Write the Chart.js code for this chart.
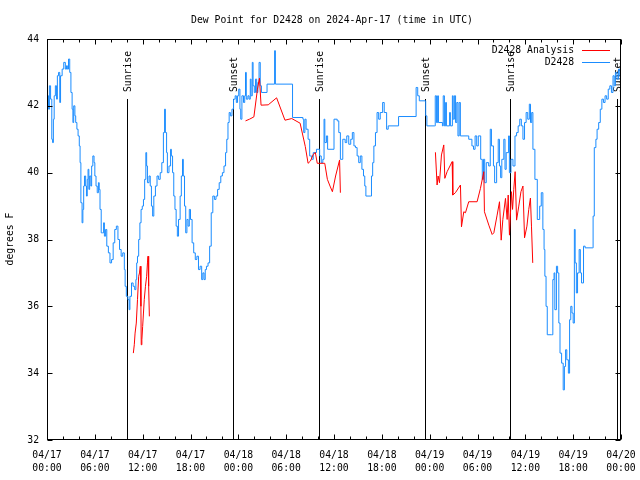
<!DOCTYPE html>
<html>
<head>
<meta charset="utf-8">
<script src="https://cdn.jsdelivr.net/npm/chart.js@4/dist/chart.umd.min.js"></script>
<style>
html,body{margin:0;padding:0;background:#fff;}
canvas{display:block;}
</style>
</head>
<body>
<canvas id="c" width="640" height="480"></canvas>
<script>
// ---- data (hours since 2024-04-17 00:00 UTC) ----
const titleText = 'Dew Point for D2428 on 2024-Apr-17 (time in UTC)';
const yAxisTitle = 'degrees F';
const seriesNames = ['D2428 Analysis', 'D2428'];
const xTickDates = ['04/17','04/17','04/17','04/17','04/18','04/18','04/18','04/18','04/19','04/19','04/19','04/19','04/20'];
const xTickTimes = ['00:00','06:00','12:00','18:00','00:00','06:00','12:00','18:00','00:00','06:00','12:00','18:00','00:00'];
const yTicks = [32, 34, 36, 38, 40, 42, 44];
const eventLabels = ['Sunrise','Sunset','Sunrise','Sunset','Sunrise','Sunset'];
const eventHours = [10.07, 23.38, 34.17, 47.47, 58.13, 71.56];

const blueHours = [
 0.0,0.1,0.2,0.3,0.45,0.6,0.7,0.8,0.9,1.05,1.2,1.3,1.45,1.6,1.7,1.9,2.1,2.3,2.45,2.55,
 2.7,2.85,3.0,3.15,3.25,3.35,3.5,3.6,3.75,3.9,4.05,4.15,4.25,4.4,4.5,4.6,4.7,4.85,4.95,5.05,
 5.15,5.25,5.35,5.5,5.6,5.75,5.9,6.0,6.15,6.3,6.45,6.55,6.65,6.8,6.95,7.1,7.2,7.35,7.5,7.7,
 7.9,8.1,8.3,8.5,8.7,8.9,9.1,9.3,9.5,9.7,9.8,9.95,10.15,10.3,10.4,10.6,10.8,11.0,11.15,11.25,
 11.35,11.5,11.65,11.8,11.95,12.1,12.25,12.4,12.5,12.6,12.8,12.95,13.1,13.25,13.4,13.6,13.8,14.0,14.2,14.4,
 14.6,14.75,14.85,15.0,15.1,15.3,15.5,15.6,15.75,15.9,16.05,16.2,16.35,16.5,16.7,16.85,17.0,17.1,17.25,17.4,
 17.55,17.7,17.85,18.0,18.2,18.4,18.6,18.8,19.0,19.2,19.4,19.55,19.7,19.85,20.0,20.2,20.4,20.6,20.8,21.0,
 21.2,21.4,21.6,21.8,22.0,22.2,22.4,22.55,22.7,22.85,23.0,23.2,23.4,23.6,23.75,23.9,24.05,24.2,24.3,24.45,
 24.65,24.8,24.9,25.0,25.2,25.35,25.5,25.6,25.75,25.85,26.0,26.15,26.3,26.45,26.6,26.75,26.9,27.6,28.55,28.65,
 30.8,32.1,32.2,32.35,32.5,32.75,32.95,33.2,33.4,33.8,34.2,34.4,34.6,34.75,34.85,35.05,35.2,36.0,36.4,36.6,
 36.8,37.1,37.4,37.6,37.85,38.1,38.3,38.5,38.7,38.9,39.1,39.3,39.5,39.7,39.86,40.0,40.55,40.7,40.85,41.0,
 41.2,41.4,41.6,41.8,42.1,42.3,42.6,42.8,44.1,46.3,46.5,46.7,47.5,47.65,48.6,48.7,48.85,49.0,49.1,49.6,
 49.7,49.85,50.0,50.1,50.5,50.6,50.85,50.95,51.1,51.25,51.4,51.55,51.7,51.85,52.7,52.9,53.3,53.5,53.7,53.9,
 54.1,54.4,54.6,54.75,54.9,55.1,55.4,55.6,55.75,56.0,56.15,56.4,56.6,56.75,56.9,57.05,57.3,57.45,57.6,57.9,
 58.0,58.2,58.45,58.7,58.9,59.1,59.3,59.5,59.7,59.9,60.1,60.3,60.5,60.65,60.8,60.95,61.2,61.5,61.8,62.0,
 62.2,62.35,62.45,62.6,62.75,63.3,63.45,63.6,63.7,63.9,64.05,64.2,64.35,64.55,64.75,64.9,65.05,65.2,65.4,65.55,
 65.7,65.85,66.0,66.15,66.25,66.4,66.55,66.75,66.9,67.05,67.3,67.5,68.4,68.5,68.65,68.85,69.0,69.2,69.4,69.6,
 69.8,70.0,70.2,70.4,70.6,70.8,71.0,71.15,71.3,71.5,71.7,71.85,72.0
];
const blueDew = [
 42.0,42.3,41.9,42.6,42.2,41.0,40.9,41.6,42.3,42.6,42.2,42.9,43.0,42.1,42.9,43.1,43.3,43.1,43.2,43.1,
 43.4,43.0,42.4,41.9,41.5,42.0,41.7,41.5,41.3,41.1,40.8,40.3,39.1,38.5,38.9,39.6,39.9,39.6,39.3,39.8,
 40.1,39.5,39.9,39.6,40.2,40.5,40.3,39.9,39.6,39.4,39.7,39.5,38.9,38.2,38.2,38.5,38.1,38.3,37.8,37.6,
 37.3,37.4,37.9,38.3,38.4,38.0,37.7,37.5,37.6,37.1,36.6,36.3,36.2,35.9,36.3,36.7,36.6,36.5,36.8,37.3,
 37.5,38.0,38.5,38.9,39.0,39.2,39.8,40.6,40.2,39.7,39.9,39.6,39.0,38.7,39.3,39.6,39.9,39.8,40.0,40.3,
 41.2,41.9,41.2,40.6,40.0,40.2,40.7,40.5,40.0,39.3,38.9,38.4,38.1,38.6,39.3,39.9,40.4,39.9,39.0,38.2,
 38.6,38.4,38.9,38.6,37.9,37.6,37.4,37.5,37.1,37.2,36.8,37.0,36.8,37.1,37.2,37.3,37.8,38.8,39.3,39.2,
 39.3,39.5,39.7,39.9,40.0,40.2,40.6,41.0,41.5,41.8,41.7,41.9,42.2,42.3,42.1,42.3,42.5,41.9,41.6,42.3,
 42.1,42.3,43.0,42.2,42.3,42.2,42.8,42.3,43.3,42.6,42.4,42.8,42.4,42.7,43.3,42.6,42.4,42.65,43.65,42.65,
 41.65,41.6,41.2,41.6,41.3,41.0,40.5,40.4,40.6,40.7,40.5,40.3,40.4,41.6,40.9,41.1,40.7,41.6,41.55,41.2,
 40.4,41.0,40.9,41.1,40.85,41.0,41.2,40.8,40.75,40.5,40.3,40.5,40.1,39.9,39.6,39.3,39.3,39.9,40.3,40.8,
 41.2,41.8,41.6,41.8,42.1,41.8,41.3,41.4,41.68,42.55,42.3,42.15,41.7,41.4,41.4,42.3,41.5,42.3,41.5,41.4,
 42.3,41.4,42.1,41.4,41.8,41.4,42.3,41.6,42.3,41.5,42.1,41.1,42.1,41.1,41.1,41.0,40.8,40.7,41.1,40.8,
 41.1,40.4,39.8,40.4,39.7,40.3,40.2,41.3,40.8,40.2,39.7,40.3,41.0,40.2,39.85,40.4,41.0,40.1,40.6,41.1,
 40.0,40.4,40.2,41.1,41.2,41.4,41.6,41.4,41.0,41.5,41.8,41.6,42.05,41.5,41.8,40.7,39.8,38.6,39.0,39.4,
 38.3,37.7,36.9,36.0,35.15,35.15,36.8,37.0,35.9,37.2,37.0,35.5,34.6,34.3,33.5,34.2,34.7,34.4,34.0,35.6,
 36.0,35.8,35.5,38.3,37.3,36.4,37.0,37.7,37.0,36.7,37.8,37.75,37.75,38.7,40.75,41.0,41.3,41.5,41.9,42.2,
 42.1,42.3,42.2,42.5,42.6,42.4,42.9,42.6,43.0,42.8,43.1,42.9,43.0
];

const redHours = [
 10.83,10.95,11.05,11.2,11.35,11.5,11.6,11.7,11.78,11.82,11.9,12.0,12.1,12.2,12.35,12.5,12.6,12.67,12.75,12.84,13.0,
 24.9,25.4,25.95,26.4,26.65,26.85,27.75,28.8,29.85,30.7,31.75,32.4,32.75,33.05,33.4,33.66,33.9,34.84,35.17,35.5,35.8,36.2,36.7,36.8,37.0,
 48.72,48.93,49.06,49.23,49.48,49.77,49.9,50.19,50.82,50.9,51.23,51.86,51.99,52.28,52.49,52.9,53.95,54.37,54.79,54.87,
 55.42,55.84,56.05,56.46,56.76,56.97,57.18,57.51,57.72,57.85,58.01,58.26,58.4,58.55,58.72,58.9,59.18,59.45,59.7,59.9,
 60.2,60.43,60.64,60.77,60.93
];
const redDew = [
 34.6,34.85,35.2,35.5,36.2,36.9,37.0,37.2,36.0,34.85,35.0,35.4,35.8,36.2,36.6,36.9,37.3,37.5,36.6,35.7,null,
 41.55,41.6,41.67,42.5,42.83,42.02,42.03,42.24,41.57,41.62,41.48,40.78,40.28,40.35,40.55,40.6,40.28,40.28,39.8,39.6,39.43,39.9,40.38,39.4,null,
 40.61,39.63,39.9,39.7,40.53,40.83,39.83,40.03,40.33,39.33,39.4,39.63,38.38,38.83,38.8,39.13,39.13,39.53,40.03,38.83,
 38.43,38.15,38.2,38.73,39.13,37.98,38.6,39.23,38.6,39.33,38.13,39.43,38.9,39.5,40.03,38.58,39.0,39.43,39.6,38.05,
 38.4,38.9,39.24,38.4,37.3
];

const RED = '#ff0000';
const BLUE = '#1a8cff';
const FONT = '"DejaVu Sans Mono", "Liberation Mono", monospace';
const FS = 9.75;

const decor = {
  id: 'decor',
  beforeDatasetsDraw(chart) {
    const {ctx, chartArea: a, scales: {x, y}} = chart;
    ctx.save();
    ctx.strokeStyle = '#000';
    ctx.lineWidth = 1;
    ctx.fillStyle = '#000';
    ctx.font = FS + 'px ' + FONT;
    const lineTop = Math.round(y.getPixelForValue(42.2));
    eventHours.forEach((h, i) => {
      const px = Math.round(x.getPixelForValue(h)) + 0.5;
      ctx.beginPath();
      ctx.moveTo(px, lineTop);
      ctx.lineTo(px, Math.round(a.bottom));
      ctx.stroke();
      ctx.save();
      ctx.translate(px + 1, lineTop - 7);
      ctx.rotate(-Math.PI / 2);
      ctx.textAlign = 'left';
      ctx.textBaseline = 'middle';
      ctx.fillText(eventLabels[i], 0, 0);
      ctx.restore();
    });
    ctx.restore();
  },
  afterDraw(chart) {
    const {ctx, chartArea: a, scales: {x, y}} = chart;
    ctx.save();
    ctx.strokeStyle = '#000';
    ctx.lineWidth = 1;
    const L = Math.round(a.left) + 0.5, R = Math.round(a.right) - 0.5;
    const T = Math.round(a.top) + 0.5, B = Math.round(a.bottom) - 0.5;
    ctx.strokeRect(L, T, R - L, B - T);
    ctx.beginPath();
    for (let h = 0; h <= 72; h += 2) {
      const px = Math.round(x.getPixelForValue(h)) + 0.5;
      const len = (h % 6 === 0) ? 5 : 3;
      ctx.moveTo(px, B); ctx.lineTo(px, B - len);
      ctx.moveTo(px, T); ctx.lineTo(px, T + len);
    }
    yTicks.forEach(v => {
      const py = Math.round(y.getPixelForValue(v)) + 0.5;
      ctx.moveTo(L, py); ctx.lineTo(L + 5, py);
      ctx.moveTo(R, py); ctx.lineTo(R - 5, py);
    });
    ctx.stroke();

    ctx.fillStyle = '#000';
    ctx.font = FS + 'px ' + FONT;
    ctx.textAlign = 'center';
    ctx.textBaseline = 'middle';
    ctx.fillText(titleText, 332, 20);

    ctx.save();
    ctx.translate(10, 239);
    ctx.rotate(-Math.PI / 2);
    ctx.fillText(yAxisTitle, 0, 0);
    ctx.restore();

    // legend
    const ds = chart.data.datasets;
    ctx.textAlign = 'right';
    [50, 62].forEach((ly, i) => {
      ctx.fillStyle = '#000';
      ctx.fillText(ds[i].label, 574, ly);
      ctx.strokeStyle = ds[i].borderColor;
      ctx.beginPath();
      ctx.moveTo(582, ly + 0.5);
      ctx.lineTo(610, ly + 0.5);
      ctx.stroke();
    });
    ctx.restore();
  }
};

new Chart(document.getElementById('c'), {
  type: 'line',
  data: {
    datasets: [
      {
        label: seriesNames[0],
        data: redHours.map((h, i) => ({x: h, y: redDew[i]})),
        borderColor: RED,
        borderWidth: 1,
        pointRadius: 0,
        spanGaps: false,
        tension: 0,
        fill: false
      },
      {
        label: seriesNames[1],
        data: blueHours.map((h, i) => ({x: h, y: blueDew[i]})),
        borderColor: BLUE,
        borderWidth: 1,
        pointRadius: 0,
        stepped: true,
        fill: false
      }
    ]
  },
  options: {
    responsive: false,
    animation: false,
    devicePixelRatio: 1,
    layout: {padding: {top: 39, right: 19, left: 0, bottom: 0}},
    plugins: {legend: {display: false}, tooltip: {enabled: false}, title: {display: false}},
    scales: {
      x: {
        type: 'linear',
        min: 0,
        max: 72,
        afterFit(s) { s.height = 40; s.paddingLeft = 0; s.paddingRight = 0; },
        afterBuildTicks(s) { s.ticks = xTickDates.map((d, i) => ({value: i * 6})); },
        grid: {display: false, drawTicks: false},
        border: {display: false},
        ticks: {
          autoSkip: false,
          maxRotation: 0,
          padding: 9,
          color: '#000',
          font: {family: FONT, size: FS, lineHeight: '13px'},
          callback: (v, i) => [xTickDates[i], xTickTimes[i]]
        }
      },
      y: {
        type: 'linear',
        min: 32,
        max: 44,
        afterFit(s) { s.width = 47; s.paddingTop = 0; s.paddingBottom = 0; },
        afterBuildTicks(s) { s.ticks = yTicks.map(v => ({value: v})); },
        grid: {display: false, drawTicks: false},
        border: {display: false},
        ticks: {
          padding: 8,
          color: '#000',
          font: {family: FONT, size: FS},
          callback: v => String(v)
        }
      }
    }
  },
  plugins: [decor]
});
</script>
</body>
</html>
